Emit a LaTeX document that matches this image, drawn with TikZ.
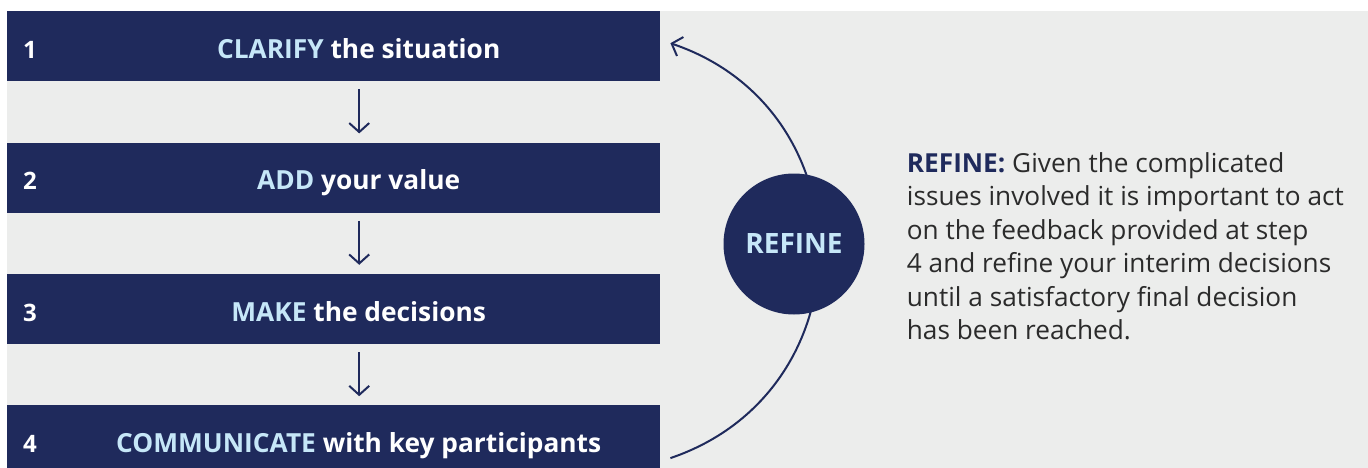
\documentclass[tikz,border=0pt]{standalone}
\usepackage{fontspec}
\setmainfont{Open Sans}
\usetikzlibrary{positioning,arrows.meta}

\definecolor{navy}{HTML}{1F2A5C}
\definecolor{palesky}{HTML}{C6E7F8}
\definecolor{panelgray}{HTML}{ECEDEC}
\definecolor{inkgray}{HTML}{2B2B2B}

\begin{document}
\begin{tikzpicture}[
    x=1pt, y=-1pt,
    stepbar/.style = {fill=navy, minimum width=653pt, minimum height=70pt,
      inner sep=0pt, anchor=north west},
    stepnum/.style = {text=white, anchor=base west, inner sep=0pt,
      font=\bfseries\fontsize{24}{26}\selectfont},
    steplabel/.style = {text=white, anchor=base, inner sep=0pt,
      font=\bfseries\fontsize{26.3}{30}\selectfont},
    downarrow/.style = {draw=navy, line width=2pt,
      -{Straight Barb[length=9pt,width=20pt]}, shorten <=8pt, shorten >=9pt},
    loopline/.style = {draw=navy, line width=2pt,
      -{Straight Barb[length=9pt,width=20pt]}},
    refineball/.style = {circle, fill=navy, minimum size=141pt, inner sep=0pt,
      text=palesky, font=\bfseries\fontsize{28}{30}\selectfont}
  ]
  \clip (0,0) rectangle (1368,468);
  \fill[panelgray] (7,11) rectangle (1368,468);

  % the four steps
  \node (b1) [stepbar] at (7,11) {};
  \node (b2) [stepbar, below=61pt of b1] {};
  \node (b3) [stepbar, below=61pt of b2] {};
  \node (b4) [stepbar, below=61pt of b3] {};

  \node (n1) [stepnum] at ([xshift=16pt,yshift=-12pt]b1.west) {1};
  \node (n2) [stepnum] at ([xshift=16pt,yshift=-12pt]b2.west) {2};
  \node (n3) [stepnum] at ([xshift=16pt,yshift=-12pt]b3.west) {3};
  \node (n4) [stepnum] at ([xshift=16pt,yshift=-12pt]b4.west) {4};

  \node (l1) [steplabel] at ([xshift=25pt,yshift=-12pt]b1.center)
    {\textcolor{palesky}{CLARIFY} the situation};
  \node (l2) [steplabel] at ([xshift=25pt,yshift=-12pt]b2.center)
    {\textcolor{palesky}{ADD} your value};
  \node (l3) [steplabel] at ([xshift=25pt,yshift=-12pt]b3.center)
    {\textcolor{palesky}{MAKE} the decisions};
  \node (l4) [steplabel] at ([xshift=25pt,yshift=-12pt]b4.center)
    {\textcolor{palesky}{COMMUNICATE} with key participants};

  \draw [downarrow] ([xshift=25.5pt]b1.south) -- ([xshift=25.5pt]b2.north);
  \draw [downarrow] ([xshift=25.5pt]b2.south) -- ([xshift=25.5pt]b3.north);
  \draw [downarrow] ([xshift=25.5pt]b3.south) -- ([xshift=25.5pt]b4.north);

  % loop back from step 4 to step 1
  \draw [loopline] ([xshift=10pt,yshift=-17.7pt]b4.east)
    .. controls +(198,-67) and +(198,67) .. ([xshift=10pt,yshift=3pt]b1.east);
  \node (refine) [refineball] at (794,244) {REFINE};

  \node (note) [anchor=north west, align=left, inner sep=0pt, text=inkgray,
    font=\fontsize{26.2}{33.5}\selectfont] at (906.7,152)
    {\textcolor{navy}{\bfseries REFINE:} Given the complicated\\
     issues involved it is important to act\\
     on the feedback provided at step\\
     4 and refine your interim decisions\\
     until a satisfactory final decision\\
     has been reached.};
\end{tikzpicture}
\end{document}
